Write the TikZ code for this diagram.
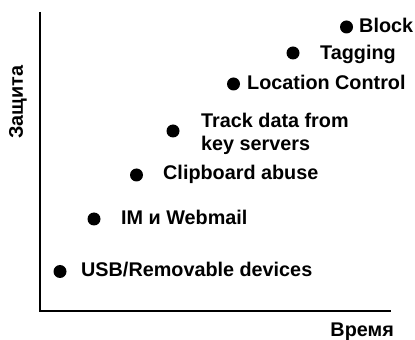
\documentclass[tikz,border=0pt]{standalone}
\usepackage{fontspec}
\setmainfont{Liberation Sans}
\tikzset{
  dot/.style={circle,fill,inner sep=0pt,minimum size=13pt},
  lbl/.style={anchor=base west,inner sep=0pt,font=\bfseries\fontsize{19.8}{23.5}\selectfont}
}
\begin{document}
\begin{tikzpicture}[x=1pt,y=1pt]
      \useasboundingbox (0,0) rectangle (415,340);
      % axes
      \coordinate (ytop) at (40,328);
      \coordinate (origin) at (40,29);
      \coordinate (xend) at (391,29);
      \draw[line width=2pt] (ytop) -- (origin) -- (xend);
      \node[lbl,anchor=base east] (time) at (394,3) {Время};
      \node[lbl,anchor=center,rotate=90] (protect) at (18,238) {Защита};
      % points
      \draw
        (60,68.5) node[dot] (usb){}
        (94,121) node[dot] (im){}
        (136.5,165) node[dot] (clip){}
        (173,209) node[dot] (track){}
        (233.5,256) node[dot] (loc){}
        (293,287) node[dot] (tag){}
        (346.5,313) node[dot] (block){};
      % labels
      \node[lbl] (usbtext) at (81,63) {USB/Removable devices};
      \node[lbl] (imtext) at (121,115) {IM и Webmail};
      \node[lbl] (cliptext) at (163,160) {Clipboard abuse};
      \node[lbl,anchor=west,align=left] (tracktext) at (201,206) {Track data from\\key servers};
      \node[lbl] (loctext) at (247,250) {Location Control};
      \node[lbl] (tagtext) at (320,280) {Tagging};
      \node[lbl] (blocktext) at (359,307) {Block};
    \end{tikzpicture}
\end{document}
